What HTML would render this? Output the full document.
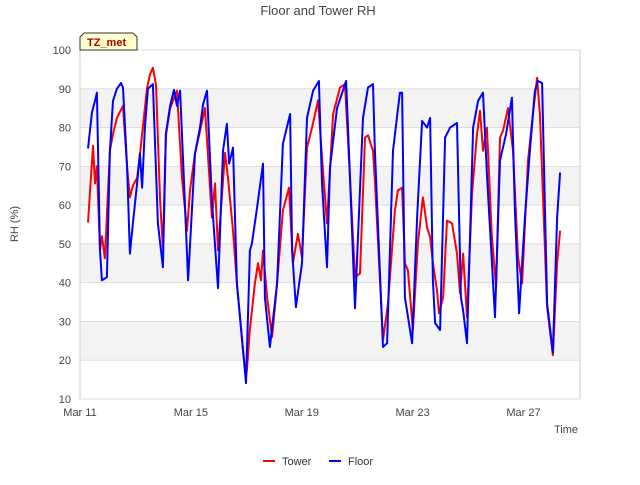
<!DOCTYPE html>
<html><head><meta charset="utf-8"><style>
body{margin:0;background:#fff;font-family:"Liberation Sans",sans-serif}
</style></head><body>
<svg id="chart" width="640" height="480" xmlns="http://www.w3.org/2000/svg" font-family="Liberation Sans, sans-serif">
<text x="318" y="15" text-anchor="middle" font-size="13" fill="#444">Floor and Tower RH</text>
<g id="bands"></g>
<rect x="80" y="50" width="500" height="349" fill="none" stroke="#ccc"/>
<g id="yticks"></g><g id="xticks"></g>
<g id="series"></g>
<g>
<path d="M80,50 L80,37 L84,33 L133,33 L137,37 L137,50 Z" fill="#ffffcc" stroke="#333"/>
<text x="87" y="46" font-size="11" font-weight="bold" fill="#a00000">TZ_met</text></g>
<text transform="translate(18,224) rotate(-90)" text-anchor="middle" font-size="11" fill="#444">RH (%)</text>
<text x="578" y="433" text-anchor="end" font-size="11" fill="#444">Time</text>
<g><line x1="263" y1="461" x2="275" y2="461" stroke="red" stroke-width="2"/><text x="282" y="465" font-size="11" fill="#333">Tower</text></g>
<g><line x1="329" y1="461" x2="341" y2="461" stroke="blue" stroke-width="2"/><text x="348" y="465" font-size="11" fill="#333">Floor</text></g>
</svg>
<script>
const xTickLabels=["Mar 11","Mar 15","Mar 19","Mar 23","Mar 27"];
const xTickDays=[0,4,8,12,16];
const yTicks=[10,20,30,40,50,60,70,80,90,100];
const floorDays=[0.29,0.43,0.54,0.61,0.72,0.79,0.97,1.08,1.19,1.33,1.48,1.55,1.70,1.80,1.91,2.06,2.16,2.24,2.34,2.45,2.63,2.81,2.99,3.10,3.25,3.39,3.50,3.61,3.72,3.90,4.15,4.33,4.44,4.58,4.76,4.98,5.16,5.30,5.38,5.52,5.66,5.88,5.99,6.13,6.20,6.39,6.60,6.67,6.85,7.11,7.32,7.58,7.65,7.79,8.01,8.19,8.41,8.62,8.73,8.91,9.02,9.27,9.60,9.74,9.92,10.21,10.39,10.57,10.64,10.93,11.08,11.29,11.54,11.62,11.72,11.98,12.16,12.34,12.52,12.63,12.73,12.81,12.99,13.17,13.35,13.60,13.74,13.82,13.96,14.18,14.36,14.54,14.68,14.97,15.15,15.37,15.58,15.69,15.84,16.05,16.23,16.41,16.52,16.67,16.85,17.06,17.21,17.32];
const floorRH=[74.6,83.8,86.9,89,48.3,40.6,41.4,74,86.9,90,91.5,90.3,69.7,47.5,55.3,65.6,73.3,64.5,80,90,91.2,55.3,44,78.4,85.6,89.7,85.6,89.5,71.5,40.6,73.3,80,86,89.5,61.2,38.6,74,81,70.7,74.8,39.8,22.6,14.1,48.3,50.1,59.4,70.7,36.2,23.4,39.8,75.8,83.5,48.3,33.7,45,82.5,89.5,92,65.6,44,69.7,85,92,67,33.4,82.5,90.3,91.2,74,23.4,24.4,74,89,89,36.2,24.4,56.8,81.7,80,82.5,40.6,29.6,27.8,77.4,80,81.2,36.2,32.9,24.4,80,86.9,89,68.1,31.1,71.5,78.4,87.7,58.6,32.1,56.8,74,89.5,92,91.5,34.7,21.9,56.8,68.4];
const towerDays=[0.29,0.47,0.54,0.61,0.72,0.79,0.90,1.08,1.19,1.33,1.55,1.70,1.80,1.91,2.06,2.16,2.42,2.53,2.63,2.74,2.89,2.99,3.10,3.25,3.50,3.68,3.86,3.97,4.15,4.51,4.76,4.87,4.98,5.23,5.34,5.52,5.66,5.88,5.99,6.02,6.13,6.31,6.42,6.53,6.60,6.75,6.93,7.11,7.32,7.54,7.68,7.86,8.01,8.19,8.37,8.59,8.73,8.91,9.13,9.38,9.56,9.74,9.92,10.10,10.28,10.39,10.57,10.64,10.93,11.11,11.36,11.47,11.62,11.72,11.83,12.01,12.19,12.37,12.52,12.63,12.73,12.88,12.95,13.10,13.24,13.42,13.60,13.71,13.82,13.96,14.14,14.32,14.43,14.54,14.68,14.86,15.01,15.15,15.26,15.44,15.62,15.80,15.95,16.16,16.34,16.49,16.59,16.85,17.06,17.21,17.32];
const towerRH=[55.5,75.3,65.6,70,48.3,52,46.3,74,78.4,82.5,85.6,69.7,62,65,67,73,90.3,93.8,95.4,91,61.2,49,78,85,89.5,67,53.4,63.8,73.3,85,56.8,65.6,48.3,73.5,67,53.4,39.8,22.6,15.7,17.5,28,39.8,45,40.6,48.3,36.2,26,39.8,58.6,64.5,45,52.6,46.6,74.8,80,87,72.3,55.3,83.5,90.3,91.2,67,41.4,42.4,77.4,78,74,66.3,25.2,34.7,58.6,63.8,64.5,45,43.2,27.8,50.1,62,54.2,51.7,45,38,32.1,36.2,56,55.3,47.5,37.3,47.5,31.1,62.9,78.4,84.3,74,80,51.7,38.9,77.4,79.2,85,74,46.6,39.8,71.5,83.5,92.8,83.5,33.7,21.3,45,53.4];
const NS="http://www.w3.org/2000/svg";
const X=d=>80+d*27.72, Y=v=>399-(v-10)*349/90;
function mk(t,a,p){const e=document.createElementNS(NS,t);for(const k in a)e.setAttribute(k,a[k]);p.appendChild(e);return e;}
const bands=document.getElementById('bands');
[20,40,60,80].forEach(v=>{const r=mk('rect',{x:80,y:Y(v+10),width:500,height:Y(v)-Y(v+10),fill:'#f3f3f3'},bands);

});
yTicks.forEach(v=>{const g=document.getElementById('yticks');
const l=mk('line',{x1:80,x2:580,y1:Y(v),y2:Y(v),stroke:'#ddd'},g);


const t=mk('text',{x:71,y:Y(v)+4,'text-anchor':'end','font-size':11,fill:'#444'},g);t.textContent=v;

});
xTickDays.forEach((d,i)=>{const g=document.getElementById('xticks');
const t=mk('text',{x:X(d),y:416,'text-anchor':'middle','font-size':11,fill:'#444'},g);t.textContent=xTickLabels[i];

});
function line(days,vals,col,name){const p=mk('polyline',{points:days.map((d,i)=>X(d).toFixed(1)+','+Y(vals[i]).toFixed(1)).join(' '),fill:'none',stroke:col,'stroke-width':2,'stroke-linejoin':'round'},document.getElementById('series'));

}
line(towerDays,towerRH,'red','tower-line');
line(floorDays,floorRH,'blue','floor-line');
</script>
</body></html>
